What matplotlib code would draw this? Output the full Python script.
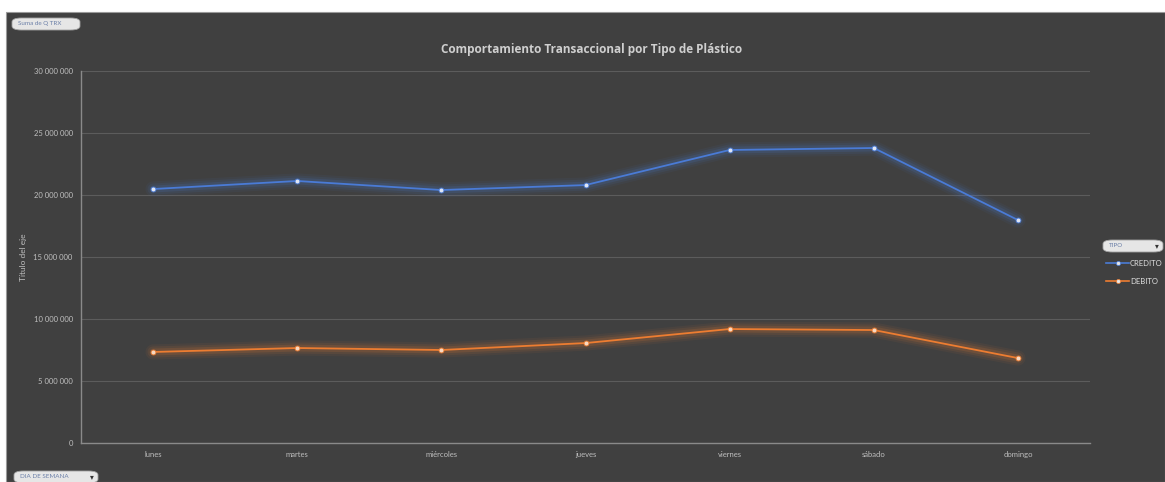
import numpy as np
import matplotlib
matplotlib.use("Agg")
import matplotlib.pyplot as plt
from matplotlib.patches import FancyBboxPatch, Rectangle

# Datos por dia de semana
dias = ["lunes", "martes", "miércoles", "jueves", "viernes", "sábado", "domingo"]
credito = [20480000, 21130000, 20400000, 20800000, 23630000, 23790000, 17980000]
debito = [7340000, 7660000, 7500000, 8060000, 9190000, 9110000, 6850000]
yticks = [0, 5000000, 10000000, 15000000, 20000000, 25000000, 30000000]

bg = "#404040"
txt = "#bfbfbf"
blue = "#4a7bd6"
orange = "#ed7d31"

plt.rcParams["font.family"] = ["Lato", "DejaVu Sans"]

fig = plt.figure(figsize=(11.65, 4.82), dpi=100)
fig.patch.set_facecolor("white")
# dark panel (white margin top/left like the screenshot)
fig.patches.append(Rectangle((6/1165, 0), 1 - 6/1165, 1 - 12/482, transform=fig.transFigure,
                             facecolor=bg, edgecolor="#9a9a9a", lw=0.8, zorder=-1))

ax = fig.add_axes([81/1165, 39/482, 1009/1165, 372/482])
ax.set_facecolor(bg)
x = np.arange(len(dias))

# glow under the lines
for s, c in [(credito, blue), (debito, orange)]:
    for w, a in [(11, 0.06), (8, 0.09), (5, 0.14)]:
        ax.plot(x, s, color=c, lw=w, alpha=a, solid_capstyle="round", zorder=2)
    ax.plot(x, s, color=c, lw=1.3, zorder=3)
    ax.plot(x, s, ls="none", marker="o", ms=3.5, mfc="#dfe6f5" if c == blue else "#f8d9c2",
            mec=c, mew=0.6, zorder=4)

ax.set_xlim(-0.5, len(dias) - 0.5)
ax.set_ylim(0, 30000000)
ax.set_xticks(x)
ax.set_xticklabels(dias)
ax.set_yticks(yticks)
ax.set_yticklabels([f"{v:,}".replace(",", " ") for v in yticks])
ax.tick_params(colors=txt, labelsize=5.5, length=0, pad=6)
ax.grid(axis="y", color="#5c5c5c", lw=0.8)
ax.set_axisbelow(True)
for k in ["top", "right"]:
    ax.spines[k].set_visible(False)
for k in ["left", "bottom"]:
    ax.spines[k].set_color("#8a8a8a")
    ax.spines[k].set_linewidth(1)
ax.set_ylabel("Título del eje", color=txt, fontsize=6)
ax.yaxis.set_label_coords(-54/1009, 0.5)

fig.text(592/1165, 1 - 50/482, "Comportamiento Transaccional por Tipo de Plástico",
         ha="center", va="center", color="#cfcfcf", fontsize=8.5, fontweight="bold",
         family="Open Sans")

# pivot-style buttons
def boton(x0, y0, w, h, label, arrow=False):
    fig.patches.append(FancyBboxPatch((x0/1165, 1 - (y0 + h)/482), w/1165, h/482,
                                      boxstyle="round,pad=0,rounding_size=0.008",
                                      transform=fig.transFigure, facecolor="#e6e6e6",
                                      edgecolor="#a0a0a0", lw=0.6, zorder=5))
    fig.text((x0 + 6)/1165, 1 - (y0 + h/2)/482, label, ha="left", va="center",
             fontsize=4.5, color="#6b7fa8", zorder=6)
    if arrow:
        fig.text((x0 + w - 6)/1165, 1 - (y0 + h/2)/482, "▾", ha="center", va="center",
                 fontsize=5.5, color="#333333", zorder=6, family="DejaVu Sans")

boton(12, 18, 68, 12, "Suma de Q TRX")
boton(14, 471, 84, 12, "DIA DE SEMANA", True)
boton(1103, 240, 60, 12, "TIPO", True)

# legend
for yy, c, lab in [(263, blue, "CREDITO"), (281, orange, "DEBITO")]:
    fig.lines.append(plt.Line2D([1106/1165, 1129/1165], [1 - yy/482] * 2, color=c, lw=1.2,
                                transform=fig.transFigure, zorder=5))
    fig.lines.append(plt.Line2D([1118/1165], [1 - yy/482], color=c, marker="o", ms=3,
                                mfc="#e6e6e6", mew=0.5, transform=fig.transFigure, zorder=6))
    fig.text(1130/1165, 1 - yy/482, lab, ha="left", va="center", fontsize=5.5,
             color="#e0e0e0")

fig.savefig("out.png", dpi=100, facecolor=fig.get_facecolor())
